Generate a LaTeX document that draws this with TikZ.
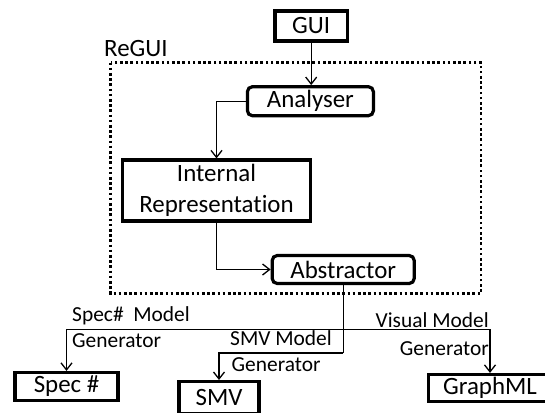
\documentclass[tikz,border=0pt]{standalone}
\usepackage{fontspec}
\setmainfont{Carlito}[Ligatures=CommonOff]
\usetikzlibrary{arrows.meta}

\begin{document}
\begin{tikzpicture}[x=1bp,y=-1bp,
  box/.style={draw, line width=3.2bp, inner sep=0pt,
    font=\fontsize{25}{31}\selectfont, align=center},
  roundbox/.style={box, rounded corners=5bp},
  lbl/.style={inner sep=0pt, font=\fontsize{21.5}{26}\selectfont},
  link/.style={line width=1.3bp},
  >={Straight Barb[length=7bp,width=11bp]},
  frame/.style={line width=2.6bp, dash pattern=on 2.6bp off 2.6bp}
]
\useasboundingbox (0,0) rectangle (545,412);
\clip (0,0) rectangle (545,412);

% ReGUI boundary
\draw[frame] (110.5,62.5) rectangle (481,293.5);
\node[anchor=base west, inner sep=0pt, font=\fontsize{25}{30}\selectfont] (regui) at (104,56) {ReGUI};

% components
\node[box, minimum width=72.5bp, minimum height=30bp] (gui) at (311.2,26) {GUI};
\node[roundbox, minimum width=126bp, minimum height=29bp] (ana) at (310.4,101.2) {Analyser};
\node[box, minimum width=188.4bp, minimum height=61bp] (int) at (216.5,190.5) {Internal\\Representation};
\node[roundbox, minimum width=142bp, minimum height=28bp] (abs) at (343.2,269.5) {Abstractor};

% outputs
\node[box, minimum width=103bp, minimum height=28bp] (spec) at (66.5,386.5) {Spec \#};
\node[box, minimum width=80bp, minimum height=32bp] (smv) at (219,397.6) {SMV};
\node[box, minimum width=123bp, minimum height=27bp] (gml) at (490,388) {GraphML};

% helper levels for the output branches
\coordinate (busy) at (0,329.5);
\coordinate (smvy) at (0,353);
\coordinate (bus) at (abs.south |- busy);
\coordinate (smvturn) at (abs.south |- smvy);

% connectors
\draw[link,->] (gui.south) -- (gui.south |- ana.north);
\draw[link,->] (ana.west) -| (int.north);
\draw[link,->] (int.south) |- (abs.west);
\draw[link] (abs.south) -- (smvturn);
\draw[link,->] (smvturn) -| (smv.north);
\draw[link,->] (bus) -| (spec.north);
\draw[link,->] (bus) -| (gml.north);

% generator labels
\node[lbl, anchor=base west] (specmodel) at (72,321) {Spec\#\ \ Model};
\node[lbl, anchor=base west] (specgen) at (72,347) {Generator};
\node[lbl, anchor=base west] (smvmodel) at (230,345) {SMV Model};
\node[lbl, anchor=base west] (smvgen) at (231.5,371.5) {Generator};
\node[lbl, anchor=base east] (vismodel) at (489,327) {Visual Model};
\node[lbl, anchor=base east] (visgen) at (489,355) {Generator};
\end{tikzpicture}
\end{document}
